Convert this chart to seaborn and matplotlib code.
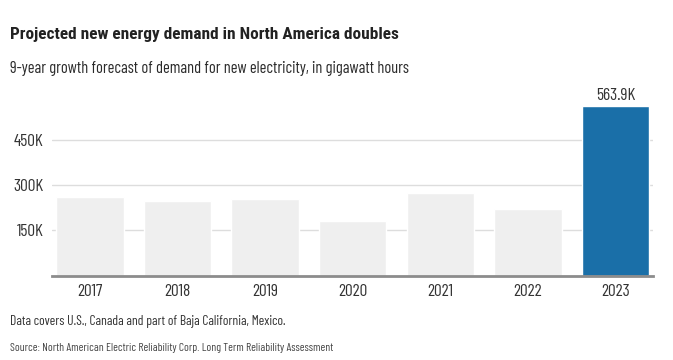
import matplotlib
matplotlib.use("Agg")
import pandas as pd
import seaborn as sns
import matplotlib.pyplot as plt

# data (gigawatt hours)
years = ["2017", "2018", "2019", "2020", "2021", "2022", "2023"]
demand = [262000, 248000, 255000, 181000, 275000, 222000, 563900]
y_ticks = [150000, 300000, 450000]
y_tick_labels = ["150K", "300K", "450K"]

df = pd.DataFrame({"year": years, "demand": demand})
grey = "#efefef"
blue = "#1a6fa8"
palette = [grey] * (len(years) - 1) + [blue]

sns.set_theme(style="white")
plt.rcParams["font.family"] = ["Barlow Condensed", "Roboto Condensed", "DejaVu Sans"]

fig = plt.figure(figsize=(6.73, 3.60), dpi=100)
ax = fig.add_axes([52 / 673, 1 - 275.5 / 360, 601 / 673, 185.5 / 360])

sns.barplot(
    data=df, x="year", y="demand", hue="year", palette=palette,
    width=0.77, legend=False, saturation=1, ax=ax, zorder=2,
)

ax.set_xlim(-0.434, 6.428)
ax.set_ylim(0, 618000)
ax.set_yticks(y_ticks)
ax.set_yticklabels(y_tick_labels)
ax.yaxis.grid(True, color="#dddddd", linewidth=1, zorder=0)
ax.set_axisbelow(True)
ax.set_xlabel("")
ax.set_ylabel("")
for s in ["top", "right", "left"]:
    ax.spines[s].set_visible(False)
ax.spines["bottom"].set_color("#8c8c8c")
ax.spines["bottom"].set_linewidth(2)
ax.spines["bottom"].set_zorder(3)
ax.tick_params(axis="both", length=0, labelsize=12.5, labelcolor="#333333")
ax.tick_params(axis="x", pad=6)
ax.tick_params(axis="y", pad=6)

# value label on the last bar
ax.text(6, demand[-1] + 10000, "563.9K", ha="center", va="bottom",
        fontsize=12.5, color="#333333")

fig.text(10 / 673, 1 - 35 / 360, "Projected new energy demand in North America doubles",
         fontsize=12.4, fontweight="bold", color="#222222", va="center",
         family=["Roboto Condensed", "DejaVu Sans"])
fig.text(10 / 673, 1 - 68 / 360, "9-year growth forecast of demand for new electricity, in gigawatt hours",
         fontsize=11.8, color="#2a2a2a", va="center")
fig.text(10 / 673, 1 - 322 / 360, "Data covers U.S., Canada and part of Baja California, Mexico.",
         fontsize=9.8, color="#333333", va="center")
fig.text(10 / 673, 1 - 348 / 360, "Source: North American Electric Reliability Corp. Long Term Reliability Assessment",
         fontsize=8.3, color="#444444", va="center")

fig.savefig("out.png", dpi=100, facecolor="white")
